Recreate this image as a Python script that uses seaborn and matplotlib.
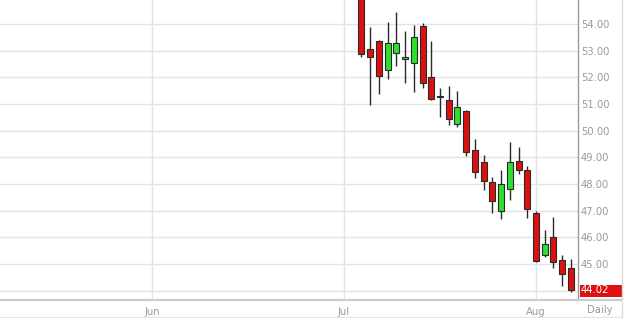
import numpy as np
import pandas as pd
import matplotlib
matplotlib.use("Agg")
import matplotlib.pyplot as plt
import matplotlib.transforms as mtransforms
from matplotlib.lines import Line2D
from matplotlib.patches import Rectangle
import seaborn as sns

# ---- data (WTI-style daily candles) ----
dates = ["2015-07-06", "2015-07-07", "2015-07-08", "2015-07-09", "2015-07-10",
         "2015-07-13", "2015-07-14", "2015-07-15", "2015-07-16", "2015-07-17",
         "2015-07-20", "2015-07-21", "2015-07-22", "2015-07-23", "2015-07-24",
         "2015-07-27", "2015-07-28", "2015-07-29", "2015-07-30", "2015-07-31",
         "2015-08-03", "2015-08-04", "2015-08-05", "2015-08-06", "2015-08-07"]
opens = [56.50, 53.06, 53.35, 52.28, 52.90, 52.68, 52.53, 53.94, 52.01, 51.30,
         51.15, 50.25, 50.75, 49.28, 48.82, 48.06, 47.00, 47.81, 48.88, 48.51,
         46.91, 45.32, 46.01, 45.16, 44.86]
highs = [56.90, 53.90, 53.39, 54.06, 54.44, 53.74, 53.96, 54.03, 53.36, 51.61,
         51.68, 51.49, 50.77, 49.69, 49.09, 48.26, 48.53, 49.58, 49.40, 48.66,
         46.98, 46.26, 46.76, 45.32, 45.19]
lows = [52.78, 50.97, 51.38, 51.95, 52.44, 51.80, 51.46, 51.61, 51.15, 50.53,
        50.20, 50.13, 49.06, 48.23, 47.76, 46.93, 46.69, 47.41, 48.36, 46.72,
        45.06, 45.26, 44.85, 44.19, 43.94]
closes = [52.88, 52.75, 52.06, 53.28, 53.28, 52.78, 53.53, 51.80, 51.20, 51.27,
          50.45, 50.90, 49.19, 48.46, 48.13, 47.38, 48.00, 48.83, 48.53, 47.07,
          45.12, 45.75, 45.06, 44.64, 44.02]
month_starts = ["2015-06-01", "2015-07-01", "2015-08-03"]
month_labels = ["Jun", "Jul", "Aug"]
price_ticks = [44, 45, 46, 47, 48, 49, 50, 51, 52, 53, 54]
last_price = 44.02
holidays = ["2015-07-03"]
origin = "2015-07-01"

# trading-day positions
def tday(d):
    return int(np.busday_count(origin, d, holidays=holidays)) if d >= origin else \
        -int(np.busday_count(d, origin, holidays=holidays))

df = pd.DataFrame({"date": dates, "open": opens, "high": highs,
                   "low": lows, "close": closes})
df["t"] = [tday(d) for d in df["date"]]
df["up"] = df["close"] >= df["open"]
mt = [tday(d) for d in month_starts]

sns.set_theme(style="white")
plt.rcParams["font.family"] = ["DejaVu Sans"]

W, H = 629, 318
fig = plt.figure(figsize=(W / 100, H / 100), dpi=100)
ax = fig.add_axes([0, 18 / H, 578 / W, 300 / H])

ppd = 384 / 44.0  # pixels per trading day
ax.set_xlim(-344 / ppd, 234 / ppd)
ppu = 26.67
ax.set_ylim(54 - 276 / ppu, 54 + 24 / ppu)

# grid
for p in price_ticks:
    ax.axhline(p, color="#e3e3e3", lw=1, zorder=0)
for m in mt:
    ax.axvline(m, color="#e3e3e3", lw=1, zorder=0)

# wicks
ax.vlines(df["t"], df["low"], df["high"], color="#2a2a2a", lw=1, zorder=2)
# bodies
body_lo = np.minimum(df["open"], df["close"])
body_h = np.maximum(np.abs(df["close"] - df["open"]), 0.03)
colors = np.where(df["up"], "#2ee02e", "#dd1010")
colors = np.where(np.abs(df["close"] - df["open"]) < 0.05, "#2a2a2a", colors)
ax.bar(df["t"], body_h, bottom=body_lo, width=0.68, color=colors,
       edgecolor="#2a2a2a", linewidth=0.8, zorder=3)

# axes styling
for s in ["left", "top"]:
    ax.spines[s].set_visible(False)
ax.spines["right"].set_color("#9a9a9a")
ax.spines["right"].set_linewidth(1)
ax.spines["bottom"].set_visible(False)
ax.yaxis.tick_right()
ax.set_yticks(price_ticks)
ax.set_yticklabels([f"{p:.2f}" for p in price_ticks])
ax.tick_params(axis="y", length=0, pad=2.2, labelsize=7.2, labelcolor="#9a9a9a")
ax.set_xticks(mt)
ax.set_xticklabels(month_labels)
ax.tick_params(axis="x", length=0, pad=5, labelsize=7.2, labelcolor="#9a9a9a")

trans = mtransforms.blended_transform_factory(ax.transAxes, ax.transData)
ax.text(1.0 + 3 / 578, 55, "55.00", transform=trans, ha="left", va="center",
        fontsize=7.2, color="#9a9a9a", clip_on=False)

# last price box
y0 = 54 - (297 - 24) / ppu
y1 = 54 - (285 - 24) / ppu
ax.add_patch(Rectangle((1.0 + 1.5 / 578, y0), 42 / 578, y1 - y0, transform=trans,
                       facecolor="#e01010", edgecolor="none", clip_on=False, zorder=5))
ax.text(1.0 + 3 / 578, last_price, f"{last_price:.2f}", transform=trans,
        ha="left", va="center", fontsize=7.2, color="white", clip_on=False, zorder=6)

# frame lines in figure space
fig.add_artist(Line2D([0, 622 / W], [1 - 300 / H] * 2, color="#cccccc", lw=1.6))
fig.add_artist(Line2D([622 / W] * 2, [0, 1], color="#dddddd", lw=1))
fig.add_artist(Line2D([0, 622 / W], [1 - 317 / H] * 2, color="#e6e6e6", lw=1))
fig.text(600 / W, 1 - 310 / H, "Daily", ha="center", va="center",
         fontsize=7.2, color="#9a9a9a")

fig.savefig("out.png", dpi=100)
